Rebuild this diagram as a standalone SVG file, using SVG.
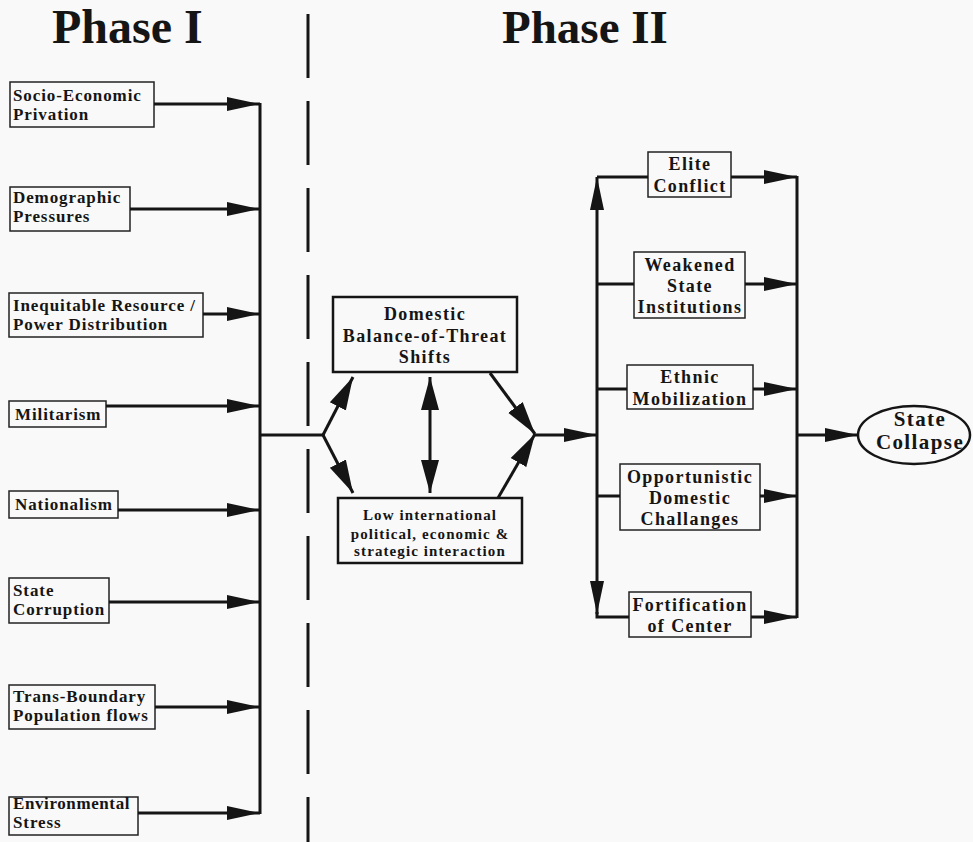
<svg xmlns="http://www.w3.org/2000/svg" width="973" height="842" viewBox="0 0 973 842">
<style>
text{font-family:"Liberation Serif","Times New Roman",serif;font-weight:bold;fill:#151515}
.title{font-size:47px}
.sm{font-size:17px;letter-spacing:0.9px}
.md{font-size:18px;letter-spacing:1.4px;text-anchor:middle}
.lo{font-size:15px;letter-spacing:1.1px;text-anchor:middle}
.box{fill:none;stroke:#222;stroke-width:1.5}
.tbox{fill:none;stroke:#151515;stroke-width:2.5}
.ln{fill:none;stroke:#151515;stroke-width:3}
.ar{fill:none;stroke:#151515;stroke-width:3;marker-end:url(#ah)}
</style>
<defs>
<marker id="ah" markerUnits="userSpaceOnUse" markerWidth="36" markerHeight="18" refX="33" refY="9" orient="auto-start-reverse" viewBox="0 0 36 18">
<path d="M0,2 L33,9 L0,16 Z" fill="#151515"/>
</marker>
<marker id="ahw" markerUnits="userSpaceOnUse" markerWidth="36" markerHeight="20" refX="33" refY="10" orient="auto-start-reverse" viewBox="0 0 36 20">
<path d="M0,1 L33,10 L0,19 Z" fill="#151515"/>
</marker>
</defs>
<rect width="973" height="842" fill="#f9f9f9"/>
<text class="title" x="52" y="43" style="font-size:48px">Phase I</text>
<text class="title" x="502" y="43">Phase II</text>
<line x1="308" y1="14" x2="308" y2="842" stroke="#151515" stroke-width="3" stroke-dasharray="64 23"/>

<g id="n-socio"><rect class="box" x="10" y="82" width="144" height="45"/><text class="sm" x="13" y="101">Socio-Economic</text><text class="sm" x="13" y="120">Privation</text></g>
<g id="n-demo"><rect class="box" x="10" y="187" width="120" height="44"/><text class="sm" x="13" y="203">Demographic</text><text class="sm" x="13" y="222">Pressures</text></g>
<g id="n-ineq"><rect class="box" x="9" y="293" width="194" height="44"/><text class="sm" x="13" y="311">Inequitable Resource /</text><text class="sm" x="13" y="330">Power Distribution</text></g>
<g id="n-mil"><rect class="box" x="9" y="401" width="97" height="26"/><text class="sm" x="15" y="420">Militarism</text></g>
<g id="n-nat"><rect class="box" x="9" y="491" width="109" height="27"/><text class="sm" x="15" y="510">Nationalism</text></g>
<g id="n-corr"><rect class="box" x="9" y="578" width="100" height="45"/><text class="sm" x="13" y="596">State</text><text class="sm" x="13" y="615">Corruption</text></g>
<g id="n-trans"><rect class="box" x="9" y="685" width="146" height="44"/><text class="sm" x="13" y="702">Trans-Boundary</text><text class="sm" x="13" y="721">Population flows</text></g>
<g id="n-env"><rect class="box" x="9" y="797" width="129" height="38"/><text class="sm" x="13" y="809" style="letter-spacing:0.6px">Environmental</text><text class="sm" x="13" y="828">Stress</text></g>

<g id="n-dom"><rect class="tbox" x="333" y="297" width="184" height="75"/><text class="md" x="425" y="320">Domestic</text><text class="md" x="425" y="342">Balance-of-Threat</text><text class="md" x="425" y="363">Shifts</text></g>
<g id="n-low"><rect class="tbox" x="338" y="498" width="184" height="65"/><text class="lo" x="430" y="520">Low international</text><text class="lo" x="430" y="539">political, economic &amp;</text><text class="lo" x="430" y="556">strategic interaction</text></g>

<g id="n-elite"><rect class="box" x="648" y="152" width="83" height="45"/><text class="md" x="690" y="170">Elite</text><text class="md" x="690" y="192">Conflict</text></g>
<g id="n-weak"><rect class="box" x="634" y="252" width="111" height="66"/><text class="md" x="690" y="271">Weakened</text><text class="md" x="690" y="292">State</text><text class="md" x="690" y="313">Institutions</text></g>
<g id="n-eth"><rect class="box" x="627" y="365" width="126" height="44"/><text class="md" x="690" y="383">Ethnic</text><text class="md" x="690" y="405">Mobilization</text></g>
<g id="n-opp"><rect class="box" x="620" y="464" width="140" height="66"/><text class="md" x="690" y="483">Opportunistic</text><text class="md" x="690" y="504">Domestic</text><text class="md" x="690" y="525">Challanges</text></g>
<g id="n-fort"><rect class="box" x="629" y="592" width="122" height="45"/><text class="md" x="690" y="611">Fortification</text><text class="md" x="690" y="632">of Center</text></g>
<g id="n-coll"><ellipse cx="914" cy="435" rx="56" ry="29" fill="none" stroke="#151515" stroke-width="2.5"/><text class="md" x="920" y="426" style="font-size:21px">State</text><text class="md" x="920" y="449" style="font-size:21px">Collapse</text></g>

<g id="connectors">
<path class="ar" d="M154,104 H260"/>
<path class="ar" d="M130,209 H260"/>
<path class="ar" d="M203,314 H260"/>
<path class="ar" d="M106,406 H260"/>
<path class="ar" d="M118,510 H260"/>
<path class="ar" d="M109,602 H260"/>
<path class="ar" d="M155,707 H260"/>
<path class="ar" d="M138,813 H260"/>
<path class="ln" d="M260,103 V814"/>
<path class="ln" d="M260,435 H323"/>
<path class="ar" style="marker-end:url(#ahw)" d="M323,435 L353,377"/>
<path class="ar" style="marker-end:url(#ahw)" d="M323,435 L353,493"/>
<path class="ar" style="marker-end:url(#ahw);marker-start:url(#ahw)" d="M430,377 V493"/>
<path class="ar" style="marker-end:url(#ahw)" d="M490,373 L535,434"/>
<path class="ar" style="marker-end:url(#ahw)" d="M498,498 L535,434"/>
<path class="ar" d="M535,435 H597"/>
<path class="ar" d="M597,435 V177"/>
<path class="ar" d="M597,435 V614"/>
<path class="ln" d="M597,177 H648 M597,284 H634 M597,389 H627 M597,496 H620 M597,612 V617 H629"/>
<path class="ar" d="M731,177 H797"/>
<path class="ar" d="M745,284 H797"/>
<path class="ar" d="M753,389 H797"/>
<path class="ar" d="M760,496 H797"/>
<path class="ar" d="M751,617 H797"/>
<path class="ln" d="M797,176 V618"/>
<path class="ar" d="M797,435 H858"/>
</g>
</svg>
